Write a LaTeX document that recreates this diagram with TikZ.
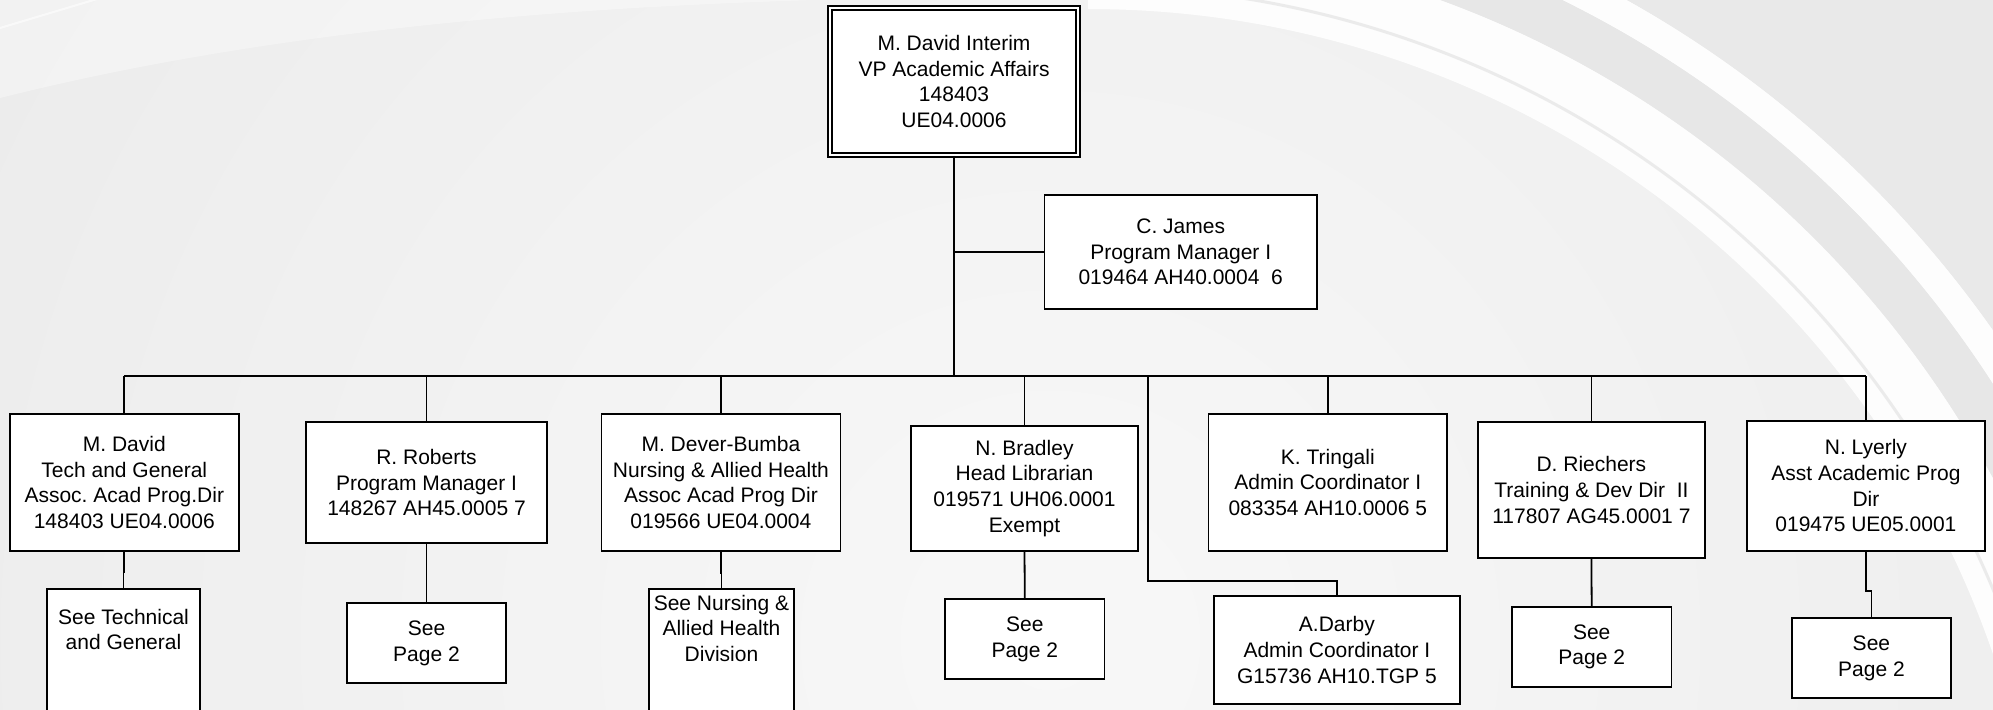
\documentclass[tikz,border=0pt]{standalone}
\usepackage{fontspec}
\setmainfont{Liberation Sans}
\frenchspacing
\definecolor{bgIn}{HTML}{F8F8F8}
\definecolor{bgOut}{HTML}{E1E1E1}
\definecolor{stripe}{HTML}{E7E7E7}
\definecolor{corner}{HTML}{E9E9E9}
\begin{document}
\begin{tikzpicture}[x=1pt,y=-1pt,
  box/.style={draw=black, fill=white, line width=1.8pt, inner sep=0pt, align=center,
    font=\fontsize{21}{25.6}\selectfont},
  txt/.style={inner sep=0pt, align=center, font=\fontsize{21}{25.6}\selectfont},
  conn/.style={draw=black, line width=1.8pt}]
\useasboundingbox (0,0) rectangle (1993,709);
\clip (0,0) rectangle (1993,709);
% ---------- background ----------
\fill[bgOut] (0,0) rectangle (1993,709);
\shade[inner color=bgIn, outer color=bgOut] (1050,640) circle (2300pt);
\fill[white, opacity=0.35] (0,-2) -- (0,98) .. controls (250,35) and (550,4) .. (900,-2) -- cycle;
\draw[white, line width=2pt, opacity=0.6] (0,28) -- (97,-1);
\begin{scope}
  \clip (1088,-10) rectangle (2000,720);
  \fill[white, opacity=0.92, even odd rule] (1088,966) circle (1028pt) (1088,966) circle (957pt);
  \draw[stripe, line width=3pt, opacity=0.8] (1088,966) circle (980pt);
  \fill[stripe, even odd rule] (1088,966) circle (1076pt) (1088,966) circle (1028pt);
  \fill[white, opacity=0.92, even odd rule] (1088,966) circle (1106pt) (1088,966) circle (1076pt);
  \fill[corner, even odd rule] (1088,966) circle (1400pt) (1088,966) circle (1106pt);
\end{scope}
% ---------- boxes ----------
\node[box, double, double distance=2.2pt, line width=1.5pt, minimum width=248pt, minimum height=147pt]
  (vp) at (954,81.5) {M. David Interim\\VP Academic Affairs\\148403\\UE04.0006};
\node[box, minimum width=272.5pt, minimum height=113.7pt] (cjames) at (1180.7,251.8)
  {C. James\\Program Manager I\\019464 AH40.0004~~6};
\node[box, minimum width=229.4pt, minimum height=136.7pt] (mdavid) at (124.3,482.4)
  {M. David\\Tech and General\\Assoc. Acad Prog.Dir\\148403 UE04.0006};
\node[box, minimum width=241pt, minimum height=120.4pt] (roberts) at (426.5,482.5)
  {R. Roberts\\Program Manager I\\148267 AH45.0005 7};
\node[box, minimum width=239pt, minimum height=136.7pt] (dever) at (720.9,482.4)
  {M. Dever-Bumba\\Nursing \& Allied Health\\Assoc Acad Prog Dir\\019566 UE04.0004};
\node[box, minimum width=227pt, minimum height=125pt] (bradley) at (1024.5,488.2)
  {N. Bradley\\Head Librarian\\019571 UH06.0001\\Exempt};
\node[box, minimum width=238.5pt, minimum height=136.7pt] (tringali) at (1327.8,482.4)
  {K. Tringali\\Admin Coordinator I\\083354 AH10.0006 5};
\node[box, minimum width=226.7pt, minimum height=136.6pt] (riechers) at (1591.4,490)
  {D. Riechers\\Training \& Dev Dir~~II\\117807 AG45.0001 7};
\node[box, minimum width=238.3pt, minimum height=130pt] (lyerly) at (1865.9,485.7)
  {N. Lyerly\\Asst Academic Prog\\Dir\\019475 UE05.0001};
\node[box, minimum width=246.3pt, minimum height=108.6pt] (darby) at (1336.9,650)
  {A.Darby\\Admin Coordinator I\\G15736 AH10.TGP 5};
% lower boxes
\node[box, anchor=north, minimum width=153pt, minimum height=170pt] (seetech) at (123.5,588.3) {};
\node[txt, anchor=north] (seetechtxt) at (123.5,608.8) {See Technical\\and General};
\node[box, anchor=north, minimum width=145pt, minimum height=170pt] (seenurs) at (721.5,588.3) {};
\node[txt, anchor=north] (seenurstxt) at (721.5,594.8) {See Nursing \&\\Allied Health\\Division};
\node[box, minimum width=159pt, minimum height=80pt] (rp2) at (426.5,643.3) {See\\Page 2};
\node[box, minimum width=159.5pt, minimum height=80pt] (bp2) at (1024.8,639.3) {See\\Page 2};
\node[box, minimum width=159.7pt, minimum height=79.4pt] (rip2) at (1591.7,647) {See\\Page 2};
\node[box, minimum width=159.2pt, minimum height=80pt] (lp2) at (1871.4,658.3) {See\\Page 2};
% ---------- connectors ----------
\coordinate (trunk) at (954,376);
\coordinate (busL) at (124.3,376);
\coordinate (busR) at (1865.9,376);
\coordinate (dk) at (1148,376);
\coordinate (dbend) at (1148,581);
\draw[conn] (vp.south) -- (trunk);
\draw[conn] (vp.south |- cjames.west) -- (cjames.west);
\draw[conn] (busL) -- (busR);
\foreach \n in {mdavid,roberts,dever,bradley,tringali,riechers,lyerly}
  \draw[conn] (\n.north |- trunk) -- (\n.north);
\draw[conn] (dk) -- (dbend) -| (darby.north);
\draw[conn] (mdavid.south) -- ++(0,20) -| (seetech.north);
\draw[conn] (dever.south) -- ++(0,21) -| (seenurs.north);
\draw[conn] (roberts.south) -- (rp2.north);
\draw[conn] (bradley.south) -- (bp2.north);
\draw[conn] (riechers.south) -- (rip2.north);
\draw[conn] (lyerly.south) -- ++(0,39) -| (lp2.north);
\end{tikzpicture}
\end{document}
